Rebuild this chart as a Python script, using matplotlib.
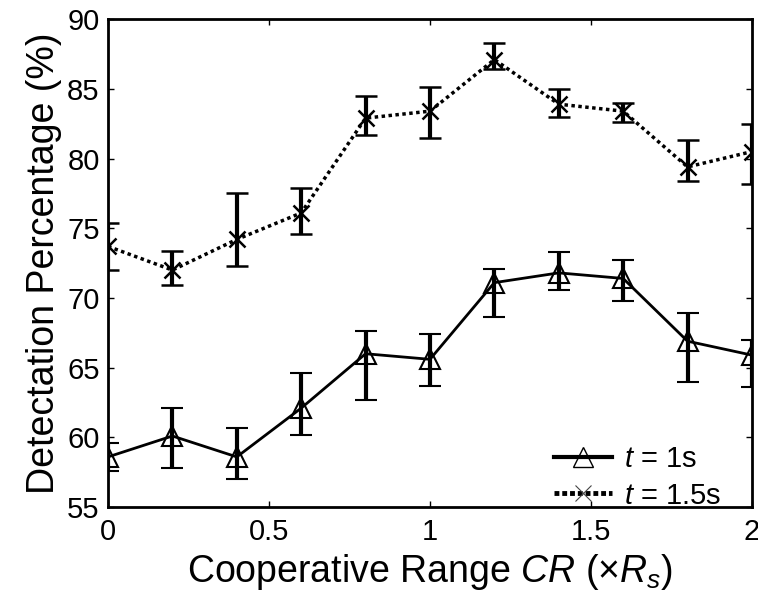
import numpy as np
import matplotlib
matplotlib.use("Agg")
import matplotlib.pyplot as plt
from matplotlib.lines import Line2D

plt.rcParams['font.family'] = ['Liberation Sans', 'DejaVu Sans']
plt.rcParams['mathtext.fontset'] = 'custom'
plt.rcParams['mathtext.rm'] = 'Liberation Sans'
plt.rcParams['mathtext.it'] = 'Liberation Sans:italic'

cr = [0, 0.2, 0.4, 0.6, 0.8, 1.0, 1.2, 1.4, 1.6, 1.8, 2.0]

t1_mean = [58.6, 60.1, 58.6, 62.1, 66.0, 65.6, 71.1, 71.8, 71.4, 66.9, 65.9]
t1_low  = [57.6, 57.8, 57.0, 60.2, 62.7, 63.7, 68.6, 70.6, 69.8, 64.0, 63.6]
t1_high = [59.6, 62.1, 60.7, 64.6, 67.6, 67.4, 72.1, 73.3, 72.7, 68.9, 67.0]

t15_mean = [73.7, 72.0, 74.2, 76.1, 82.9, 83.4, 87.1, 83.9, 83.4, 79.4, 80.5]
t15_low  = [72.0, 70.9, 72.3, 74.6, 81.7, 81.5, 86.4, 83.0, 82.6, 78.4, 78.2]
t15_high = [75.4, 73.4, 77.5, 77.9, 84.5, 85.1, 88.3, 85.0, 84.0, 81.3, 82.5]

labels = ['$t$ = 1s', '$t$ = 1.5s']
xticks = [0, 0.5, 1, 1.5, 2]
xticklabels = ['0', '0.5', '1', '1.5', '2']

fig = plt.figure(figsize=(7.58, 5.98), dpi=100)
ax = fig.add_axes([0.1425, 0.152, 0.8495, 0.816])

def err(mean, lo, hi):
    m = np.array(mean); return [m - np.array(lo), np.array(hi) - m]

s1 = dict(color='black', linestyle='-', linewidth=2, marker='^', markersize=15,
          markerfacecolor='none', markeredgewidth=1.5)
s2 = dict(color='black', linestyle=(0, (1, 1)), linewidth=2.5, marker='x',
          markersize=11, markeredgewidth=1.8)

ax.errorbar(cr, t1_mean, yerr=err(t1_mean, t1_low, t1_high), ecolor='black',
            elinewidth=3, capsize=8, capthick=3.5, **s1)
ax.errorbar(cr, t15_mean, yerr=err(t15_mean, t15_low, t15_high), ecolor='black',
            elinewidth=3, capsize=8, capthick=3.5, **s2)

ax.set_xlim(0, 2)
ax.set_ylim(55, 90)
ax.set_xticks(xticks)
ax.set_xticklabels(xticklabels)
ax.set_yticks(range(55, 91, 5))
ax.tick_params(direction='in', top=True, right=True, labelsize=21, length=4, width=1, pad=6)
ax.tick_params(axis='x', pad=8)
for s in ax.spines.values():
    s.set_linewidth(2)

ax.set_xlabel(r'Cooperative Range $CR$ ($\times R_s$)', fontsize=27, labelpad=4)
ax.set_ylabel('Detectation Percentage (%)', fontsize=27, labelpad=4)

h1 = Line2D([], [], color='black', linestyle='-', linewidth=3, marker='^',
            markersize=15, markerfacecolor='none', markeredgewidth=1.0)
h2 = Line2D([], [], color='black', linestyle=(0, (1, 0.6)), linewidth=3.5, marker='x',
            markersize=11, markeredgewidth=0.8, markeredgecolor='#444444')
ax.legend([h1, h2], labels, loc='lower right', bbox_to_anchor=(0.984, -0.047),
          frameon=False, fontsize=21, handlelength=2.0, handletextpad=0.4,
          borderaxespad=0.3, labelspacing=0.3)

fig.savefig('out.png', dpi=100)
